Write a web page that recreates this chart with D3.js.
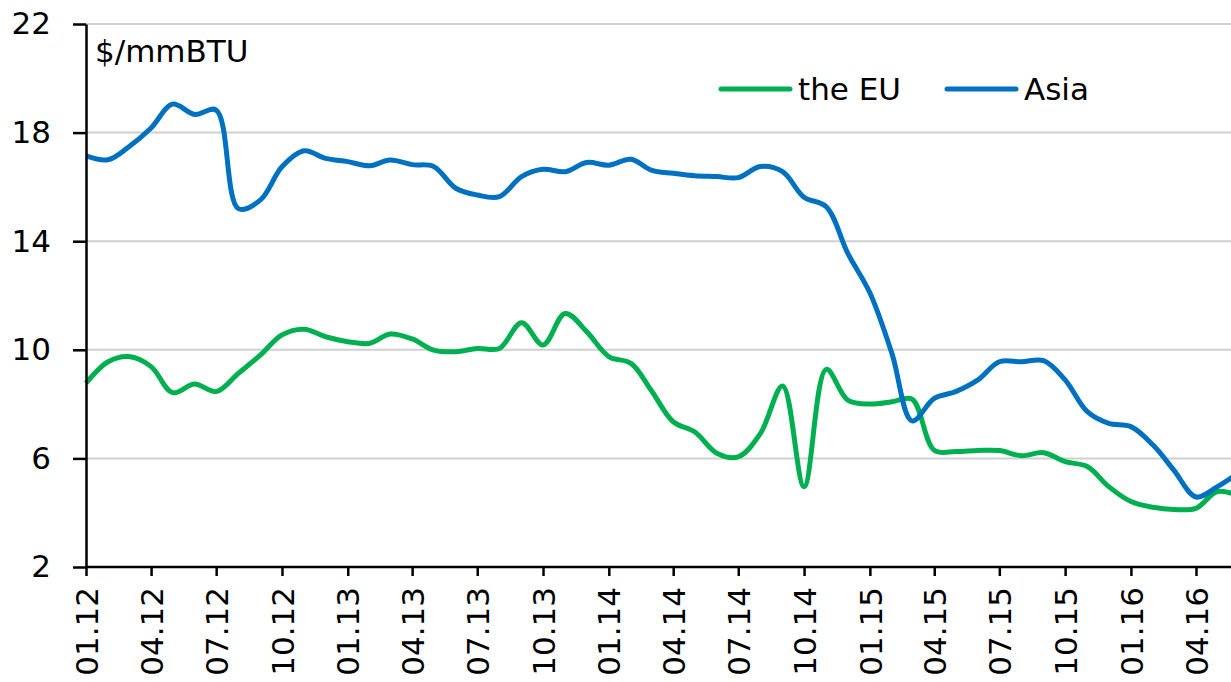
<!DOCTYPE html>
<html>
<head>
<meta charset="utf-8">
<script src="https://cdnjs.cloudflare.com/ajax/libs/d3/7.8.5/d3.min.js"></script>
<style>
  body { margin: 0; background: #fff; }
  svg { display: block; }
  .axis path, .axis line { stroke: #000; stroke-width: 2.5px; }
  .yAxis text { font-family: "DejaVu Sans", sans-serif; font-size: 31px; fill: #000; }
  .xAxis text { font-family: "DejaVu Sans", sans-serif; font-size: 31px; fill: #000; }
  .grid line { stroke: #d0d0d0; stroke-width: 2px; }
  .lbl { font-family: "DejaVu Sans", sans-serif; font-size: 31px; fill: #000; }
</style>
</head>
<body>
<svg id="chart"></svg>
<script>
// monthly, 01.12 .. 06.16
const months = d3.timeMonth.range(new Date(2012, 0, 1), new Date(2016, 6, 1));

const euValues = [
  8.77, 9.56, 9.75, 9.38, 8.42, 8.74, 8.46, 9.13, 9.81, 10.55, 10.76, 10.48,
  10.30, 10.24, 10.58, 10.40, 9.99, 9.93, 10.05, 10.05, 11.00, 10.18, 11.34, 10.67,
  9.75, 9.50, 8.52, 7.35, 6.98, 6.19, 6.06, 6.92, 8.67, 4.96, 9.28, 8.15,
  8.00, 8.09, 8.18, 6.30, 6.25, 6.29, 6.29, 6.10, 6.21, 5.88, 5.70, 4.96,
  4.41, 4.20, 4.12, 4.16, 4.78, 4.60
];

const asiaValues = [
  17.14, 17.00, 17.48, 18.17, 19.05, 18.67, 18.83, 15.20, 15.52, 16.74, 17.33, 17.05,
  16.93, 16.78, 16.99, 16.82, 16.75, 15.95, 15.70, 15.64, 16.38, 16.65, 16.56, 16.90,
  16.80, 17.02, 16.62, 16.50, 16.41, 16.38, 16.34, 16.75, 16.56, 15.62, 15.27, 13.56,
  12.10, 9.85, 7.38, 8.21, 8.46, 8.89, 9.56, 9.56, 9.60, 8.89, 7.72, 7.29,
  7.17, 6.49, 5.57, 4.58, 4.96, 5.50
];

const seriesNames = ["the EU", "Asia"];
const seriesColors = ["#00B050", "#0070C0"];
const yTicks = [2, 6, 10, 14, 18, 22];

const W = 1231, H = 682;
const mLeft = 86, mTop = 24, mBottom = 567;

const svg = d3.select("svg#chart")
    .attr("width", W)
    .attr("height", H);

// 01.12 sits at the axis, 04.16 at x=1196; the scale runs on past the frame
const x = d3.scaleTime()
    .domain([new Date(2012, 0, 1), new Date(2016, 3, 1)])
    .range([mLeft, 1196]);

const y = d3.scaleLinear()
    .domain([2, 22])
    .range([mBottom, mTop]);

// grid
svg.append("g")
    .attr("class", "grid")
    .selectAll("line")
    .data(yTicks.filter(d => d > 2))
    .enter().append("line")
    .attr("x1", mLeft)
    .attr("x2", W)
    .attr("y1", d => y(d))
    .attr("y2", d => y(d));

// lines
const line = d3.line()
    .x(d => x(d.date))
    .y(d => y(d.value))
    .curve(d3.curveCatmullRom.alpha(0.5));

const series = [euValues, asiaValues].map((vals, i) => ({
    name: seriesNames[i],
    color: seriesColors[i],
    values: vals.map((v, j) => ({date: months[j], value: v}))
}));

svg.append("g")
    .selectAll("path")
    .data(series)
    .enter().append("path")
    .attr("d", d => line(d.values))
    .attr("fill", "none")
    .attr("stroke", d => d.color)
    .attr("stroke-width", 5)
    .attr("stroke-linejoin", "round");

// axes
const xAxis = d3.axisBottom(x)
    .tickValues(d3.timeMonth.every(3).range(new Date(2012, 0, 1), new Date(2016, 6, 1)))
    .tickFormat(d3.timeFormat("%m.%y"))
    .tickSize(9)
    .tickSizeOuter(0);

const gx = svg.append("g")
    .attr("class", "axis xAxis")
    .attr("transform", "translate(0," + mBottom + ")")
    .call(xAxis);

gx.select(".domain").attr("d", "M" + mLeft + ",0H" + W);

gx.selectAll("text")
    .attr("transform", "rotate(-90)")
    .attr("text-anchor", "end")
    .attr("x", -20)
    .attr("y", 0)
    .attr("dy", "0.36em");

const yAxis = d3.axisLeft(y)
    .tickValues(yTicks)
    .tickSize(13)
    .tickSizeOuter(0)
    .tickPadding(22);

svg.append("g")
    .attr("class", "axis yAxis")
    .attr("transform", "translate(" + mLeft + ",0)")
    .call(yAxis);

// unit label
svg.append("text")
    .attr("class", "lbl")
    .attr("x", 95)
    .attr("y", 62)
    .text("$/mmBTU");

// legend
const legendX = [721, 947];
const leg = svg.append("g")
    .selectAll("g")
    .data(series)
    .enter().append("g")
    .attr("transform", (d, i) => "translate(" + legendX[i] + ",89)");

leg.append("line")
    .attr("x1", 0)
    .attr("x2", 69)
    .attr("stroke", d => d.color)
    .attr("stroke-width", 5)
    .attr("stroke-linecap", "round");

leg.append("text")
    .attr("class", "lbl")
    .attr("x", 77)
    .attr("dy", "0.36em")
    .text(d => d.name);
</script>
</body>
</html>
